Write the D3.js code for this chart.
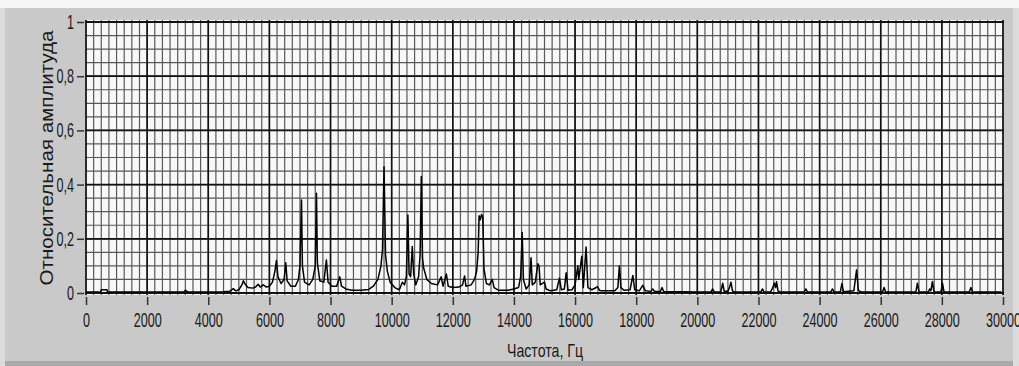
<!DOCTYPE html>
<html>
<head>
<meta charset="utf-8">
<script src="https://cdn.jsdelivr.net/npm/d3@7"></script>
<style>
  html, body { margin: 0; padding: 0; background: #f3f3f3; }
  svg { display: block; }
  text { font-family: "Liberation Sans", Arial, sans-serif; fill: #1a1a1a; }
</style>
</head>
<body>
<svg id="chart" width="1019" height="366"></svg>
<script>
// spectrum: frequency (Hz) and relative amplitude
var freqs = [
  0, 480, 500, 690, 700, 3200, 3260, 3320, 4500, 4700,
  4820, 4900, 5000, 5100, 5150, 5220, 5300, 5450, 5550, 5630,
  5700, 5800, 5900, 6000, 6100, 6180, 6230, 6280, 6380, 6480,
  6535, 6580, 6700, 6850, 6950, 7000, 7050, 7080, 7150, 7300,
  7420, 7500, 7540, 7570, 7650, 7780, 7865, 7920, 8050, 8200,
  8300, 8360, 8500, 8700, 9000, 9250, 9400, 9550, 9650, 9700,
  9750, 9800, 9860, 9950, 10100, 10250, 10350, 10420, 10480, 10530,
  10570, 10620, 10675, 10720, 10790, 10880, 10930, 10970, 11010, 11045,
  11150, 11300, 11500, 11620, 11680, 11790, 11850, 12000, 12200, 12320,
  12385, 12430, 12600, 12710, 12780, 12830, 12860, 12900, 12940, 12980,
  13020, 13100, 13200, 13290, 13350, 13500, 13800, 14000, 14150, 14220,
  14270, 14310, 14400, 14500, 14560, 14600, 14700, 14780, 14820, 14860,
  15000, 15050, 15200, 15400, 15490, 15550, 15650, 15710, 15770, 15900,
  16000, 16090, 16120, 16220, 16270, 16360, 16420, 16550, 16740, 16800,
  16850, 17300, 17400, 17450, 17500, 17600, 17800, 17890, 17950, 18100,
  18215, 18300, 18480, 18540, 18600, 18790, 18845, 18900, 19500, 20000,
  20450, 20500, 20550, 20770, 20830, 20880, 21000, 21050, 21100, 21150,
  21200, 22080, 22130, 22180, 22400, 22450, 22520, 22560, 22590, 22640,
  22700, 23500, 23550, 23600, 24370, 24420, 24470, 24680, 24730, 24780,
  25120, 25210, 25270, 25350, 26060, 26110, 26160, 27150, 27200, 27250,
  27560, 27600, 27640, 27690, 27740, 27970, 28020, 28070, 28900, 28950,
  29000, 29950];
var amps = [
  0.004, 0.004, 0.012, 0.012, 0.004, 0.004, 0.01, 0.004, 0.005, 0.006,
  0.016, 0.008, 0.012, 0.03, 0.045, 0.03, 0.02, 0.018, 0.022, 0.032,
  0.022, 0.03, 0.022, 0.025, 0.04, 0.08, 0.12, 0.06, 0.035, 0.05,
  0.112, 0.045, 0.025, 0.025, 0.05, 0.1, 0.343, 0.1, 0.04, 0.03,
  0.05, 0.1, 0.368, 0.11, 0.045, 0.04, 0.122, 0.04, 0.025, 0.025,
  0.06, 0.025, 0.015, 0.01, 0.01, 0.013, 0.025, 0.05, 0.1, 0.16,
  0.466, 0.14, 0.08, 0.04, 0.02, 0.012, 0.04, 0.03, 0.06, 0.288,
  0.07, 0.06, 0.172, 0.07, 0.03, 0.06, 0.14, 0.43, 0.13, 0.093,
  0.05, 0.035, 0.03, 0.06, 0.025, 0.07, 0.025, 0.02, 0.022, 0.03,
  0.063, 0.025, 0.03, 0.05, 0.08, 0.15, 0.285, 0.27, 0.29, 0.28,
  0.09, 0.035, 0.03, 0.05, 0.02, 0.01, 0.01, 0.015, 0.02, 0.06,
  0.223, 0.05, 0.015, 0.03, 0.13, 0.03, 0.04, 0.108, 0.1, 0.03,
  0.04, 0.015, 0.008, 0.012, 0.055, 0.012, 0.015, 0.075, 0.01, 0.012,
  0.03, 0.1, 0.05, 0.136, 0.02, 0.17, 0.02, 0.012, 0.023, 0.01,
  0.008, 0.008, 0.02, 0.1, 0.02, 0.01, 0.012, 0.065, 0.012, 0.008,
  0.028, 0.008, 0.006, 0.015, 0.006, 0.005, 0.02, 0.005, 0.005, 0.004,
  0.004, 0.015, 0.004, 0.005, 0.036, 0.006, 0.006, 0.02, 0.04, 0.008,
  0.004, 0.004, 0.015, 0.004, 0.005, 0.015, 0.036, 0.02, 0.042, 0.008,
  0.004, 0.004, 0.015, 0.004, 0.004, 0.015, 0.004, 0.005, 0.035, 0.005,
  0.008, 0.085, 0.01, 0.004, 0.004, 0.02, 0.004, 0.004, 0.036, 0.005,
  0.004, 0.015, 0.008, 0.042, 0.005, 0.004, 0.036, 0.004, 0.004, 0.02,
  0.004, 0.004];

var xTicks = [0, 2000, 4000, 6000, 8000, 10000, 12000, 14000, 16000, 18000, 20000, 22000, 24000, 26000, 28000, 30000];
var yTicks = [0, 0.2, 0.4, 0.6, 0.8, 1];
var yTickLabels = ["0", "0,2", "0,4", "0,6", "0,8", "1"];
var xMinorStep = 250, yMinorStep = 0.05;

var svg = d3.select("#chart");
var plotLeft = 85, plotRight = 1004, plotTop = 20, plotBottom = 295;

// panel background
svg.append("rect").attr("x", 0).attr("y", 0).attr("width", 1019).attr("height", 366).attr("fill", "#dcdcdc");
svg.append("rect").attr("x", 0).attr("y", 0).attr("width", 1019).attr("height", 8).attr("fill", "#f6f6f6");
svg.append("rect").attr("x", 5).attr("y", 8).attr("width", 1008).attr("height", 354).attr("fill", "#c9c9c9");
svg.append("rect").attr("x", 5).attr("y", 361).attr("width", 1008).attr("height", 5).attr("fill", "#a9a9a9");
svg.append("rect").attr("x", plotLeft).attr("y", plotTop).attr("width", plotRight - plotLeft).attr("height", plotBottom - plotTop).attr("fill", "#f8f8f8");

var x = d3.scaleLinear().domain([0, 30000]).range([86, 1003]);
var y = d3.scaleLinear().domain([0, 1]).range([293, 22]);

svg.append("clipPath").attr("id", "plotclip")
  .append("rect").attr("x", plotLeft).attr("y", plotTop).attr("width", plotRight - plotLeft).attr("height", plotBottom - plotTop);

var plot = svg.append("g").attr("clip-path", "url(#plotclip)");

// minor grid
var xMinor = d3.range(0, 30000 + 1, xMinorStep);
var yMinor = d3.range(0, 1 + 1e-9, yMinorStep);
plot.selectAll(".vminor").data(xMinor).enter().append("line")
  .attr("x1", function (d) { return x(d); }).attr("x2", function (d) { return x(d); })
  .attr("y1", plotTop).attr("y2", plotBottom)
  .attr("stroke", "#595959").attr("stroke-width", 1.2);
plot.selectAll(".hminor").data(yMinor).enter().append("line")
  .attr("x1", plotLeft).attr("x2", plotRight)
  .attr("y1", function (d) { return y(d); }).attr("y2", function (d) { return y(d); })
  .attr("stroke", "#595959").attr("stroke-width", 1.2);

// major grid
plot.selectAll(".vmajor").data(xTicks).enter().append("line")
  .attr("x1", function (d) { return x(d); }).attr("x2", function (d) { return x(d); })
  .attr("y1", plotTop).attr("y2", plotBottom)
  .attr("stroke", "#111").attr("stroke-width", 1.6);
plot.selectAll(".hmajor").data(yTicks).enter().append("line")
  .attr("x1", plotLeft).attr("x2", plotRight)
  .attr("y1", function (d) { return y(d); }).attr("y2", function (d) { return y(d); })
  .attr("stroke", "#111").attr("stroke-width", 1.8);

// spectrum line
var points = freqs.map(function (f, i) { return [f, amps[i]]; });
var line = d3.line()
  .x(function (d) { return x(d[0]); })
  .y(function (d) { return y(d[1]); });
plot.append("path")
  .datum(points)
  .attr("d", line)
  .attr("fill", "none")
  .attr("stroke", "#000")
  .attr("stroke-width", 1.5)
  .attr("stroke-linejoin", "round");

// axes
var sx = 0.63;
var xAxis = d3.axisBottom(x).tickValues(xTicks).tickSize(8).tickPadding(8)
  .tickFormat(function (d) { return String(d); });
var gx = svg.append("g").attr("transform", "translate(0,297)").call(xAxis);
gx.select(".domain").remove();
gx.selectAll(".tick line").attr("stroke", "#333").attr("stroke-width", 1.5);
gx.selectAll(".tick text")
  .attr("font-size", 20)
  .attr("font-family", "Liberation Sans, Arial, sans-serif")
  .attr("fill", "#1a1a1a")
  .attr("transform", "scale(" + sx + ",1)");

var yAxis = d3.axisLeft(y).tickValues(yTicks).tickSize(7).tickPadding(3)
  .tickFormat(function (d, i) { return yTickLabels[i]; });
var gy = svg.append("g").attr("transform", "translate(84,0)").call(yAxis);
gy.select(".domain").remove();
gy.selectAll(".tick line").attr("stroke", "#333").attr("stroke-width", 1.5);
gy.selectAll(".tick text")
  .attr("font-size", 20)
  .attr("font-family", "Liberation Sans, Arial, sans-serif")
  .attr("fill", "#1a1a1a")
  .attr("x", -10 / sx)
  .attr("transform", "scale(" + sx + ",1)");

// axis titles
svg.append("text")
  .attr("x", 545).attr("y", 357)
  .attr("text-anchor", "middle")
  .attr("font-size", 19)
  .attr("textLength", 76).attr("lengthAdjust", "spacingAndGlyphs")
  .text("Частота, Гц");

svg.append("text")
  .attr("transform", "translate(53,158) rotate(-90)")
  .attr("text-anchor", "middle")
  .attr("font-size", 19)
  .attr("textLength", 255).attr("lengthAdjust", "spacingAndGlyphs")
  .text("Относительная амплитуда");
</script>
</body>
</html>
